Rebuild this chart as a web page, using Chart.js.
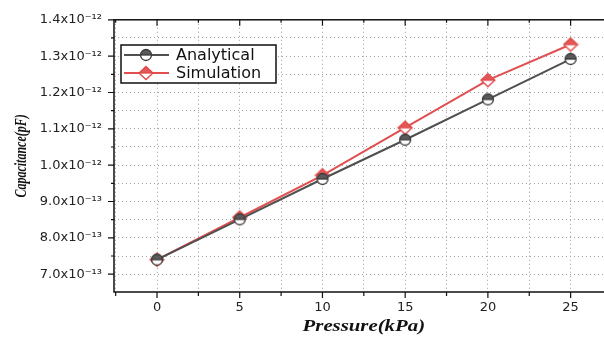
<!DOCTYPE html>
<html>
<head>
<meta charset="utf-8">
<script src="https://cdn.jsdelivr.net/npm/chart.js@4"></script>
<style>
  body { margin: 0; background: #fff; overflow: hidden; }
  #wrap { width: 620px; height: 339px; }
</style>
</head>
<body>
<div id="wrap"><canvas id="capChart"></canvas></div>
<script>
// data
const pressure = [0, 5, 10, 15, 20, 25];
const analytical = [7.4e-13, 8.51e-13, 9.62e-13, 1.07e-12, 1.181e-12, 1.292e-12];
const simulation = [7.4e-13, 8.56e-13, 9.72e-13, 1.103e-12, 1.234e-12, 1.332e-12];

const xTickValues = [0, 5, 10, 15, 20, 25];
const yTickValues = [7e-13, 8e-13, 9e-13, 1.0e-12, 1.1e-12, 1.2e-12, 1.3e-12, 1.4e-12];
const yTickLabels = ['7.0x10⁻¹³', '8.0x10⁻¹³', '9.0x10⁻¹³', '1.0x10⁻¹²', '1.1x10⁻¹²', '1.2x10⁻¹²', '1.3x10⁻¹²', '1.4x10⁻¹²'];

// half filled markers like Origin
function makeMarker(kind, stroke, fill) {
  const c = document.createElement('canvas');
  c.width = 16; c.height = 16;
  const g = c.getContext('2d');
  const path = () => {
    g.beginPath();
    if (kind === 'circle') {
      g.arc(8, 8, 5.5, 0, Math.PI * 2);
    } else {
      g.moveTo(8, 1.5); g.lineTo(15, 8); g.lineTo(8, 14.5); g.lineTo(1, 8); g.closePath();
    }
  };
  path(); g.fillStyle = '#fff'; g.fill();
  g.save();
  g.beginPath(); g.rect(0, 0, 16, 8); g.clip();
  path(); g.fillStyle = fill; g.fill();
  g.restore();
  path(); g.strokeStyle = stroke; g.lineWidth = 1.3; g.stroke();
  g.beginPath(); g.moveTo(2, 8); g.lineTo(14, 8); g.stroke();
  return c;
}

const grayMark = makeMarker('circle', '#3a3a3a', '#5a5a5a');
const redMark = makeMarker('diamond', '#e04848', '#e45858');

const frame = {
  id: 'frame',
  afterDraw(chart) {
    const ctx = chart.ctx;
    const a = chart.chartArea;
    const xs = chart.scales.x, ys = chart.scales.y;
    ctx.save();
    ctx.strokeStyle = '#111';
    ctx.lineWidth = 1.5;
    ctx.strokeRect(a.left, a.top, a.right - a.left, a.bottom - a.top);
    ctx.lineWidth = 1.2;
    ctx.beginPath();
    xs.ticks.forEach(t => {
      const px = xs.getPixelForValue(t.value);
      const major = t.value % 5 === 0;
      ctx.moveTo(px, a.bottom); ctx.lineTo(px, a.bottom + (major ? 6 : 4));
      ctx.moveTo(px, a.top); ctx.lineTo(px, a.top + (major ? 6 : 3));
    });
    ys.ticks.forEach(t => {
      const py = ys.getPixelForValue(t.value);
      const major = yTickValues.some(v => Math.abs(v - t.value) < 1e-16);
      ctx.moveTo(a.left, py); ctx.lineTo(a.left - (major ? 6 : 3), py);
    });
    ctx.stroke();

    // legend
    const lx = 121, ly = 45, lw = 155, lh = 38;
    ctx.fillStyle = '#fff';
    ctx.fillRect(lx, ly, lw, lh);
    ctx.lineWidth = 1.5;
    ctx.strokeStyle = '#111';
    ctx.strokeRect(lx, ly, lw, lh);
    chart.data.datasets.forEach((ds, i) => {
      const ry = ly + 10 + i * 18;
      ctx.strokeStyle = ds.borderColor;
      ctx.lineWidth = 2;
      ctx.beginPath(); ctx.moveTo(lx + 3, ry); ctx.lineTo(lx + 48, ry); ctx.stroke();
      ctx.drawImage(ds.pointStyle, lx + 25 - 8, ry - 8);
      ctx.fillStyle = '#111';
      ctx.font = '16px "DejaVu Sans"';
      ctx.textBaseline = 'middle';
      ctx.textAlign = 'left';
      ctx.fillText(ds.label, lx + 55, ry + 1);
    });

    // axis titles
    ctx.fillStyle = '#111';
    ctx.textAlign = 'center';
    ctx.textBaseline = 'middle';
    ctx.save();
    ctx.translate((a.left + a.right) / 2, 327);
    ctx.scale(1.3, 1);
    ctx.font = 'italic bold 16px "Liberation Serif"';
    ctx.fillText('Pressure(kPa)', 0, 0);
    ctx.restore();
    ctx.save();
    ctx.translate(22, (a.top + a.bottom) / 2);
    ctx.rotate(-Math.PI / 2);
    ctx.scale(1, 1.35);
    ctx.font = 'italic bold 12px "Liberation Serif"';
    ctx.fillText('Capacitance(pF)', 0, 0);
    ctx.restore();
    ctx.restore();
  }
};

const ctx = document.getElementById('capChart');

new Chart(ctx, {
  type: 'line',
  data: {
    datasets: [{
      label: 'Analytical',
      data: pressure.map((p, i) => ({ x: p, y: analytical[i] })),
      borderColor: '#505050',
      borderWidth: 2,
      pointStyle: grayMark,
      tension: 0
    }, {
      label: 'Simulation',
      data: pressure.map((p, i) => ({ x: p, y: simulation[i] })),
      borderColor: '#e05050',
      borderWidth: 2,
      pointStyle: redMark,
      tension: 0
    }]
  },
  options: {
    responsive: true,
    maintainAspectRatio: false,
    animation: false,
    layout: { padding: { left: 0, top: 14, right: 6, bottom: 0 } },
    plugins: { legend: { display: false }, tooltip: { enabled: false } },
    scales: {
      x: {
        type: 'linear',
        min: -2.6,
        max: 27.6,
        afterBuildTicks: s => {
          const t = [];
          for (let v = -2.5; v <= 27.5; v += 2.5) t.push({ value: v });
          s.ticks = t;
        },
        afterFit: s => { s.height = 47; },
        grid: { color: '#a0a0a0', lineWidth: 1, drawTicks: false },
        border: { display: false, dash: [1, 3] },
        ticks: {
          autoSkip: false,
          maxRotation: 0,
          padding: 8,
          color: '#222',
          font: { family: 'DejaVu Sans', size: 13 },
          callback: v => xTickValues.includes(v) ? String(v) : ''
        }
      },
      y: {
        min: 6.51e-13,
        max: 1.4e-12,
        afterBuildTicks: s => {
          const t = [];
          yTickValues.forEach((v, i) => {
            t.push({ value: v });
            if (i < yTickValues.length - 1) t.push({ value: (v + yTickValues[i + 1]) / 2 });
          });
          s.ticks = t;
        },
        afterFit: s => { s.width = 114; },
        grid: { color: '#a0a0a0', lineWidth: 1, drawTicks: false },
        border: { display: false, dash: [1, 3] },
        ticks: {
          autoSkip: false,
          padding: 12,
          color: '#222',
          font: { family: 'DejaVu Sans', size: 13 },
          callback: v => {
            const i = yTickValues.findIndex(y => Math.abs(y - v) < 1e-16);
            return i >= 0 ? yTickLabels[i] : '';
          }
        }
      }
    }
  },
  plugins: [frame]
});
</script>
</body>
</html>
